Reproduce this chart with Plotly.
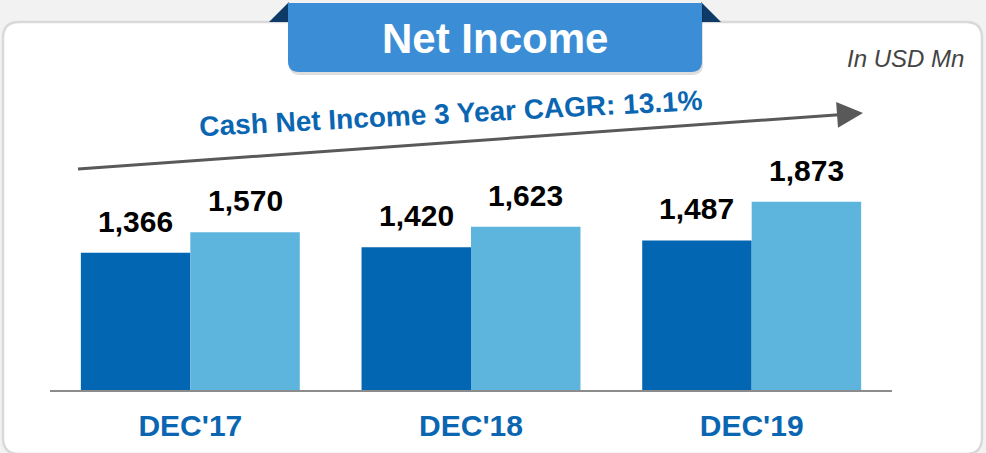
import plotly.graph_objects as go

# ---- data ----
categories = ["DEC'17", "DEC'18", "DEC'19"]
net_income = [1366, 1420, 1487]
cash_net_income = [1570, 1623, 1873]
value_labels_a = ["1,366", "1,420", "1,487"]
value_labels_b = ["1,570", "1,623", "1,873"]

W, H = 986, 453
ML, MR, MT, MB = 50, 94, 28, 63
PW, PH = W - ML - MR, H - MT - MB


def px(x):
    return (x - ML) / PW


def py(y):
    return (H - MB - y) / PH


def rrect(x0, y0, x1, y1, r, top=True, bottom=True):
    rt = r if top else 0
    rb = r if bottom else 0
    p = f"M {px(x0 + rt)},{py(y0)} L {px(x1 - rt)},{py(y0)} "
    p += f"Q {px(x1)},{py(y0)} {px(x1)},{py(y0 + rt)} " if rt else ""
    p += f"L {px(x1)},{py(y1 - rb)} "
    p += f"Q {px(x1)},{py(y1)} {px(x1 - rb)},{py(y1)} " if rb else ""
    p += f"L {px(x0 + rb)},{py(y1)} "
    p += f"Q {px(x0)},{py(y1)} {px(x0)},{py(y1 - rb)} " if rb else ""
    p += f"L {px(x0)},{py(y0 + rt)} "
    p += f"Q {px(x0)},{py(y0)} {px(x0 + rt)},{py(y0)} " if rt else ""
    return p + "Z"


xs = list(range(len(categories)))
DARK = "#0366b3"
LIGHT = "#5db4dd"
BLUE_TXT = "#0b66b2"
FONT = "Liberation Sans, Arial, sans-serif"

fig = go.Figure()
fig.add_trace(go.Bar(x=xs, y=net_income, marker=dict(color=DARK, line=dict(width=0)),
                     name="Net Income", hoverinfo="skip"))
fig.add_trace(go.Bar(x=xs, y=cash_net_income, marker=dict(color=LIGHT, line=dict(width=0)),
                     name="Cash Net Income", hoverinfo="skip"))

shapes = []
# panel
shapes.append(dict(type="path", xref="paper", yref="paper", layer="below",
                   path=rrect(3, 22, 982, 454, 16),
                   fillcolor="white", line=dict(color="#d9d9d9", width=2.5)))
# banner triangles
shapes.append(dict(type="path", xref="paper", yref="paper", layer="above",
                   path=f"M {px(269)},{py(22)} L {px(289)},{py(2)} L {px(289)},{py(22)} Z",
                   fillcolor="#0d3a66", line=dict(width=0)))
shapes.append(dict(type="path", xref="paper", yref="paper", layer="above",
                   path=f"M {px(701)},{py(2)} L {px(721)},{py(22)} L {px(701)},{py(22)} Z",
                   fillcolor="#0d3a66", line=dict(width=0)))
# banner shadow
shapes.append(dict(type="path", xref="paper", yref="paper", layer="above",
                   path=rrect(289, 6, 703, 75, 11, top=False),
                   fillcolor="rgba(0,0,0,0.13)", line=dict(width=0)))
# banner
shapes.append(dict(type="path", xref="paper", yref="paper", layer="above",
                   path=rrect(288, 3, 702, 72, 11, top=False),
                   fillcolor="#3b8ed5", line=dict(width=0)))
# arrow
x0a, y0a, x1a, y1a = 78, 169, 863, 113
dx, dy = x1a - x0a, y1a - y0a
L = (dx * dx + dy * dy) ** 0.5
ux, uy = dx / L, dy / L
hl, hw = 26, 13
bx, by = x1a - hl * ux, y1a - hl * uy
shapes.append(dict(type="line", xref="paper", yref="paper", layer="above",
                   x0=px(x0a), y0=py(y0a), x1=px(bx + 2 * ux), y1=py(by + 2 * uy),
                   line=dict(color="#595959", width=3)))
shapes.append(dict(type="path", xref="paper", yref="paper", layer="above",
                   path=(f"M {px(x1a)},{py(y1a)} L {px(bx - hw * uy)},{py(by + hw * ux)} "
                         f"L {px(bx + hw * uy)},{py(by - hw * ux)} Z"),
                   fillcolor="#595959", line=dict(width=0)))

annotations = []
annotations.append(dict(xref="paper", yref="paper", x=px(495), y=py(38), text="<b>Net Income</b>",
                        showarrow=False, xanchor="center", yanchor="middle",
                        font=dict(family=FONT, size=42, color="white")))
annotations.append(dict(xref="paper", yref="paper", x=px(905), y=py(58), text="<i>In USD Mn</i>",
                        showarrow=False, xanchor="center", yanchor="middle",
                        font=dict(family=FONT, size=24, color="#444444")))
annotations.append(dict(xref="paper", yref="paper", x=px(451), y=py(113),
                        text="<b>Cash Net Income 3 Year CAGR: 13.1%</b>", textangle=-3,
                        showarrow=False, xanchor="center", yanchor="middle",
                        font=dict(family=FONT, size=28, color=BLUE_TXT)))

half = (1 - 0.22) / 4
for i, (a, b) in enumerate(zip(net_income, cash_net_income)):
    annotations.append(dict(x=xs[i] - half, y=a, xref="x", yref="y", text=f"<b>{value_labels_a[i]}</b>",
                            showarrow=False, yanchor="bottom", yshift=13,
                            font=dict(family=FONT, size=30, color="black")))
    annotations.append(dict(x=xs[i] + half, y=b, xref="x", yref="y", text=f"<b>{value_labels_b[i]}</b>",
                            showarrow=False, yanchor="bottom", yshift=13,
                            font=dict(family=FONT, size=30, color="black")))

fig.update_layout(
    width=W, height=H,
    margin=dict(l=ML, r=MR, t=MT, b=MB),
    paper_bgcolor="#f2f2f2", plot_bgcolor="rgba(0,0,0,0)",
    barmode="group", bargap=0.22, bargroupgap=0,
    showlegend=False,
    shapes=shapes, annotations=annotations,
    xaxis=dict(range=[-0.5, 2.5], tickvals=xs, ticktext=[f"<b>{c}</b>" for c in categories],
               showline=True, linecolor="#8c8c8c", linewidth=2, showgrid=False, zeroline=False,
               ticks="", ticklabelstandoff=8,
               tickfont=dict(family=FONT, size=30, color=BLUE_TXT), fixedrange=True),
    yaxis=dict(range=[0, 3600], visible=False, showgrid=False, zeroline=False, fixedrange=True),
)

fig.write_html("out.html", config=dict(displayModeBar=False),
               post_script="document.body.style.margin='0';document.body.style.overflow='hidden';")
